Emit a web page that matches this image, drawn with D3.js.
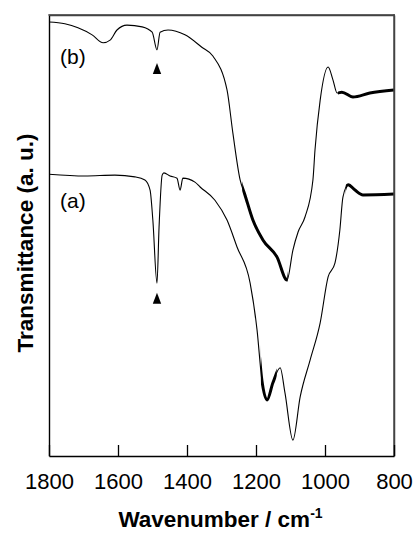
<!DOCTYPE html>
<html>
<head>
<meta charset="utf-8">
<script src="https://cdn.jsdelivr.net/npm/d3@7"></script>
<style>
  body { margin: 0; background: #fff; }
  svg { display: block; font-family: 'Liberation Sans', Arial, sans-serif; }
  .line { fill: none; stroke: #000; stroke-width: 1.1; }
  .noisy { fill: none; stroke: #000; stroke-width: 3; }
</style>
</head>
<body>
<svg id="chart" width="419" height="533"></svg>
<script>
// wavenumber (cm-1) and transmittance (a.u.)
const wavenumberB = [1800, 1754, 1716, 1675, 1643, 1623, 1603, 1574, 1530, 1501, 1487, 1478, 1455, 1406, 1357, 1325, 1284, 1267, 1246, 1232, 1209, 1180, 1139, 1110, 1093, 1078, 1058, 1035, 1029, 1014, 991, 977, 965, 951, 919, 870, 800]
const transB = [98.4, 98.0, 97.1, 95.5, 93.7, 94.3, 96.6, 97.7, 97.3, 96.1, 92.1, 96.1, 96.6, 95.5, 92.7, 90.7, 83.0, 73.2, 62.6, 59.2, 53.5, 49.0, 45.1, 39.9, 46.7, 50.8, 54.2, 62.6, 69.4, 80.7, 88.2, 85.3, 82.3, 82.5, 81.4, 82.3, 83.0]

const wavenumberA = [1800, 1696, 1609, 1551, 1522, 1507, 1499, 1487, 1481, 1472, 1467, 1449, 1429, 1420, 1412, 1377, 1362, 1319, 1284, 1255, 1217, 1197, 1183, 1168, 1151, 1130, 1116, 1093, 1072, 1043, 1014, 991, 971, 957, 948, 933, 913, 890, 800]
const transA = [63.9, 63.5, 63.7, 63.3, 62.6, 60.3, 53.5, 39.2, 51.9, 63.7, 64.2, 63.5, 63.0, 60.3, 63.0, 62.1, 61.0, 58.0, 53.5, 47.4, 39.2, 28.6, 17.2, 12.7, 16.6, 20.0, 14.3, 3.6, 13.4, 21.8, 30.2, 40.6, 43.8, 51.2, 58.7, 61.5, 60.3, 59.2, 59.4]

// wavenumber ranges where the trace is noisy (drawn as a thick band)
const noisyB = [[1240, 1108], [962, 800]]
const noisyA = [[1186, 1140], [940, 800]]

// marked band (triangle)
const markerWavenumber = 1487
const xTicks = [1800, 1600, 1400, 1200, 1000, 800]

const margin = {top: 15, right: 25, bottom: 77, left: 49}
const svg = d3.select('#chart')
const width = 419 - margin.left - margin.right
const height = 533 - margin.top - margin.bottom
const g = svg.append('g')
  .attr('transform', 'translate(' + margin.left + ',' + margin.top + ')')

const x = d3.scaleLinear().domain([1800, 800]).range([0, width])
const y = d3.scaleLinear().domain([0, 100]).range([height, 0])

const series = [
  {name: 'b', data: wavenumberB.map((w, i) => ({x: w, y: transB[i]})), noisy: noisyB},
  {name: 'a', data: wavenumberA.map((w, i) => ({x: w, y: transA[i]})), noisy: noisyA}
]

const line = d3.line()
  .x(d => x(d.x))
  .y(d => y(d.y))
  .curve(d3.curveMonotoneX)

const defs = svg.append('defs')

series.forEach(s => {
  g.append('path')
    .datum(s.data)
    .attr('class', 'line')
    .attr('d', line)

  s.noisy.forEach((r, j) => {
    const id = 'clip-' + s.name + j
    defs.append('clipPath').attr('id', id)
      .append('rect')
      .attr('x', x(r[0]))
      .attr('y', 0)
      .attr('width', x(r[1]) - x(r[0]))
      .attr('height', height)
    g.append('path')
      .datum(s.data)
      .attr('class', 'noisy')
      .attr('clip-path', 'url(#' + id + ')')
      .attr('d', line)
  })
})

// frame: axes on all four sides, only the bottom one carries ticks
const topAxis = g.append('g')
  .call(d3.axisTop(x).tickValues([]).tickSizeOuter(0))
const rightAxis = g.append('g')
  .attr('transform', 'translate(' + width + ',0)')
  .call(d3.axisRight(y).tickValues([]).tickSizeOuter(0))
const leftAxis = g.append('g')
  .call(d3.axisLeft(y).tickValues([]).tickSizeOuter(0))
topAxis.select('.domain').attr('stroke', '#444').attr('stroke-width', 1.5)
rightAxis.select('.domain').attr('stroke', '#444').attr('stroke-width', 1.5)
leftAxis.select('.domain').attr('stroke-width', 1.4)

// edge strips as filled bars too
g.append('rect').attr('x', -0.7).attr('y', -0.8).attr('width', width + 1.5).attr('height', 1.5)
  .attr('fill', '#444')
g.append('rect').attr('x', width - 0.7).attr('y', -0.8).attr('width', 1.5).attr('height', height + 0.8)
  .attr('fill', '#444')

// x axis, ticks pointing inward
const xAxis = d3.axisBottom(x).tickValues(xTicks).tickFormat(d3.format('d'))
  .tickSizeInner(-11).tickSizeOuter(0).tickPadding(17)
const xAxisEl = g.append('g')
  .attr('transform', 'translate(0,' + height + ')')
  .call(xAxis)
xAxisEl.select('.domain').attr('stroke-width', 1.4)
xAxisEl.selectAll('.tick line').attr('stroke-width', 1.3)
xAxisEl.selectAll('.tick text')
  .attr('font-size', 22)
  .attr('font-family', "'Liberation Sans', Arial, sans-serif")
  .attr('fill', '#000')

// x axis title
const xTitle = svg.append('text')
  .attr('x', margin.left + width / 2 - 1)
  .attr('y', 527)
  .attr('text-anchor', 'middle')
  .attr('font-size', 22.5)
  .attr('font-weight', 'bold')
xTitle.append('tspan').text('Wavenumber / cm')
xTitle.append('tspan').attr('dy', -9).attr('font-size', 14).text('-1')

// y axis title
svg.append('text')
  .attr('transform', 'translate(33,' + 243 + ') rotate(-90)')
  .attr('text-anchor', 'middle')
  .attr('font-size', 22.5)
  .attr('font-weight', 'bold')
  .text('Transmittance (a. u.)')

// curve labels
g.append('text').attr('x', x(1768)).attr('y', y(88.8))
  .attr('font-size', 21).text('(b)')
g.append('text').attr('x', x(1768)).attr('y', y(56.2))
  .attr('font-size', 21).text('(a)')

// triangle markers below the 1487 band (apex at the given value)
;[89.1, 37.0].forEach(v => {
  const cx = x(markerWavenumber)
  const top = y(v)
  const p = d3.path()
  p.moveTo(cx, top)
  p.lineTo(cx + 4.2, top + 11)
  p.lineTo(cx - 4.2, top + 11)
  p.closePath()
  g.append('path').attr('d', p.toString()).attr('fill', '#000')
})
</script>
</body>
</html>
